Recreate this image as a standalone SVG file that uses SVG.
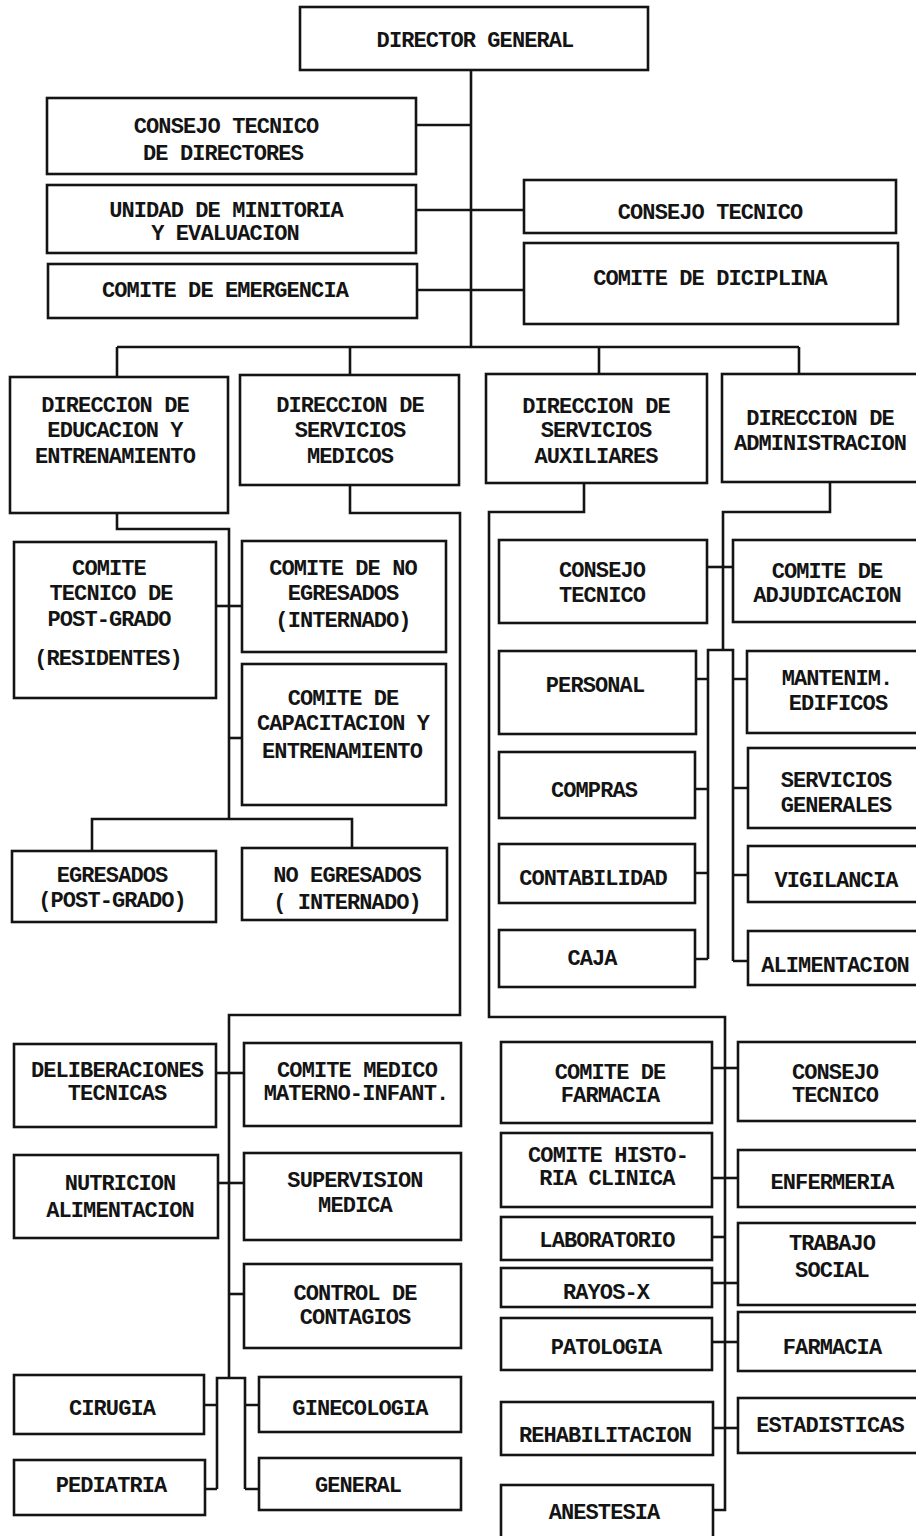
<svg xmlns="http://www.w3.org/2000/svg" width="916" height="1536" viewBox="0 0 916 1536">
  <style>
    .box { fill: #ffffff; stroke: #141414; stroke-width: 2.6; }
    .wire { fill: none; stroke: #141414; stroke-width: 2.6; stroke-linejoin: miter; }
    .t { font-family: "Liberation Mono", "DejaVu Sans Mono", monospace; font-weight: bold; font-size: 22px; letter-spacing: -0.9px; fill: #141414; text-anchor: middle; }
  </style>
  <rect width="916" height="1536" fill="#ffffff"/>

  <!-- connectors -->
  <g id="connectors" class="wire">
    <!-- director trunk and staff units -->
    <path d="M471 70 V347"/>
    <path d="M416 125 H471"/>
    <path d="M416 210 H524"/>
    <path d="M417 290 H524"/>
    <!-- bus to the four directorates -->
    <path d="M117 347 H799"/>
    <path d="M117 347 V377 M350 347 V375 M599 347 V374 M799 347 V374"/>
    <!-- education -->
    <path d="M117 513 V529 H229 V819"/>
    <path d="M216 606 H242"/>
    <path d="M229 738 H242"/>
    <path d="M92 851 V819 H352 V848"/>
    <!-- medical services -->
    <path d="M350 485 V513 H460 V1015 H229 V1378"/>
    <path d="M216 1073 H244"/>
    <path d="M218 1183 H244"/>
    <path d="M229 1294 H244"/>
    <path d="M217 1489 V1378 H245 V1489"/>
    <path d="M204 1405 H217 M205 1489 H217 M245 1405 H259 M245 1489 H259"/>
    <!-- auxiliary services -->
    <path d="M584 483 V512 H489 V1017 H725 V1510 H713"/>
    <path d="M712 1068 H738"/>
    <path d="M712 1178 H738"/>
    <path d="M712 1237 H725"/>
    <path d="M712 1283 H738"/>
    <path d="M712 1342 H738"/>
    <path d="M713 1428 H738"/>
    <!-- administration -->
    <path d="M830 482 V512 H723 V650"/>
    <path d="M707 567 H733"/>
    <path d="M708 959 V650 H733 V961"/>
    <path d="M696 679 H708 M733 679 H747"/>
    <path d="M695 789 H708 M733 788 H748"/>
    <path d="M695 873 H708 M733 875 H748"/>
    <path d="M695 959 H708 M733 961 H748"/>
  </g>

  <!-- top level -->
  <g id="director-general"><rect class="box" x="300" y="7" width="348" height="63"/><text class="t" x="475" y="47">DIRECTOR GENERAL</text></g>
  <g id="consejo-tecnico-directores"><rect class="box" x="47" y="98" width="369" height="76"/><text class="t" x="226" y="133">CONSEJO TECNICO</text><text class="t" x="223" y="160">DE DIRECTORES</text></g>
  <g id="unidad-minitoria"><rect class="box" x="47" y="185" width="369" height="68"/><text class="t" x="226" y="217">UNIDAD DE MINITORIA</text><text class="t" x="225" y="240">Y EVALUACION</text></g>
  <g id="comite-emergencia"><rect class="box" x="48" y="264" width="369" height="54"/><text class="t" x="225" y="297">COMITE DE EMERGENCIA</text></g>
  <g id="consejo-tecnico"><rect class="box" x="524" y="180" width="372" height="53"/><text class="t" x="710" y="219">CONSEJO TECNICO</text></g>
  <g id="comite-diciplina"><rect class="box" x="524" y="243" width="374" height="81"/><text class="t" x="710" y="285">COMITE DE DICIPLINA</text></g>

  <!-- directorates -->
  <g id="dir-educacion"><rect class="box" x="10" y="377" width="218" height="136"/><text class="t" x="115" y="412">DIRECCION DE</text><text class="t" x="115" y="437">EDUCACION Y</text><text class="t" x="115" y="463">ENTRENAMIENTO</text></g>
  <g id="dir-medicos"><rect class="box" x="240" y="375" width="219" height="110"/><text class="t" x="350" y="412">DIRECCION DE</text><text class="t" x="350" y="437">SERVICIOS</text><text class="t" x="350" y="463">MEDICOS</text></g>
  <g id="dir-auxiliares"><rect class="box" x="486" y="374" width="221" height="109"/><text class="t" x="596" y="413">DIRECCION DE</text><text class="t" x="596" y="437">SERVICIOS</text><text class="t" x="596" y="463">AUXILIARES</text></g>
  <g id="dir-administracion"><rect class="box" x="722" y="374" width="210" height="108"/><text class="t" x="820" y="425">DIRECCION DE</text><text class="t" x="820" y="450">ADMINISTRACION</text></g>

  <!-- education branch -->
  <g id="comite-post-grado"><rect class="box" x="14" y="542" width="202" height="156"/><text class="t" x="109" y="575">COMITE</text><text class="t" x="111" y="600">TECNICO DE</text><text class="t" x="109" y="626">POST-GRADO</text><text class="t" x="108" y="665">(RESIDENTES)</text></g>
  <g id="comite-no-egresados"><rect class="box" x="242" y="541" width="204" height="111"/><text class="t" x="343" y="575">COMITE DE NO</text><text class="t" x="343" y="600">EGRESADOS</text><text class="t" x="343" y="627">(INTERNADO)</text></g>
  <g id="comite-capacitacion"><rect class="box" x="242" y="664" width="204" height="141"/><text class="t" x="343" y="705">COMITE DE</text><text class="t" x="343" y="730">CAPACITACION Y</text><text class="t" x="342" y="758">ENTRENAMIENTO</text></g>
  <g id="egresados"><rect class="box" x="12" y="851" width="204" height="71"/><text class="t" x="112" y="882">EGRESADOS</text><text class="t" x="112" y="907">(POST-GRADO)</text></g>
  <g id="no-egresados"><rect class="box" x="242" y="848" width="205" height="72"/><text class="t" x="347" y="882">NO EGRESADOS</text><text class="t" x="347" y="909">( INTERNADO)</text></g>

  <!-- administration / auxiliary upper branch -->
  <g id="consejo-tecnico-aux"><rect class="box" x="499" y="540" width="208" height="83"/><text class="t" x="602" y="577">CONSEJO</text><text class="t" x="602" y="602">TECNICO</text></g>
  <g id="comite-adjudicacion"><rect class="box" x="733" y="540" width="200" height="82"/><text class="t" x="827" y="578">COMITE DE</text><text class="t" x="827" y="602">ADJUDICACION</text></g>
  <g id="personal"><rect class="box" x="499" y="651" width="197" height="83"/><text class="t" x="595" y="692">PERSONAL</text></g>
  <g id="mantenim-edificos"><rect class="box" x="747" y="651" width="186" height="82"/><text class="t" x="837" y="685">MANTENIM.</text><text class="t" x="838" y="710">EDIFICOS</text></g>
  <g id="compras"><rect class="box" x="499" y="752" width="196" height="66"/><text class="t" x="594" y="797">COMPRAS</text></g>
  <g id="servicios-generales"><rect class="box" x="748" y="748" width="185" height="80"/><text class="t" x="836" y="787">SERVICIOS</text><text class="t" x="836" y="812">GENERALES</text></g>
  <g id="contabilidad"><rect class="box" x="499" y="844" width="196" height="59"/><text class="t" x="593" y="885">CONTABILIDAD</text></g>
  <g id="vigilancia"><rect class="box" x="748" y="846" width="185" height="56"/><text class="t" x="836" y="887">VIGILANCIA</text></g>
  <g id="caja"><rect class="box" x="499" y="930" width="196" height="57"/><text class="t" x="592" y="965">CAJA</text></g>
  <g id="alimentacion"><rect class="box" x="748" y="931" width="185" height="54"/><text class="t" x="835" y="972">ALIMENTACION</text></g>

  <!-- medical services branch -->
  <g id="deliberaciones"><rect class="box" x="14" y="1044" width="202" height="83"/><text class="t" x="117" y="1077">DELIBERACIONES</text><text class="t" x="117" y="1100">TECNICAS</text></g>
  <g id="comite-materno-infantil"><rect class="box" x="244" y="1043" width="217" height="83"/><text class="t" x="357" y="1077">COMITE MEDICO</text><text class="t" x="356" y="1100">MATERNO-INFANT.</text></g>
  <g id="nutricion"><rect class="box" x="14" y="1155" width="204" height="83"/><text class="t" x="120" y="1190">NUTRICION</text><text class="t" x="120" y="1217">ALIMENTACION</text></g>
  <g id="supervision-medica"><rect class="box" x="244" y="1153" width="217" height="87"/><text class="t" x="355" y="1187">SUPERVISION</text><text class="t" x="355" y="1212">MEDICA</text></g>
  <g id="control-contagios"><rect class="box" x="244" y="1264" width="217" height="84"/><text class="t" x="355" y="1300">CONTROL DE</text><text class="t" x="355" y="1324">CONTAGIOS</text></g>
  <g id="cirugia"><rect class="box" x="14" y="1375" width="190" height="59"/><text class="t" x="112" y="1415">CIRUGIA</text></g>
  <g id="pediatria"><rect class="box" x="14" y="1460" width="191" height="55"/><text class="t" x="111" y="1492">PEDIATRIA</text></g>
  <g id="ginecologia"><rect class="box" x="259" y="1377" width="202" height="55"/><text class="t" x="360" y="1415">GINECOLOGIA</text></g>
  <g id="general"><rect class="box" x="259" y="1458" width="202" height="52"/><text class="t" x="358" y="1492">GENERAL</text></g>

  <!-- auxiliary services lower branch -->
  <g id="comite-farmacia"><rect class="box" x="501" y="1042" width="211" height="81"/><text class="t" x="610" y="1079">COMITE DE</text><text class="t" x="610" y="1102">FARMACIA</text></g>
  <g id="consejo-tecnico-low"><rect class="box" x="738" y="1042" width="195" height="79"/><text class="t" x="835" y="1079">CONSEJO</text><text class="t" x="835" y="1102">TECNICO</text></g>
  <g id="comite-historia"><rect class="box" x="501" y="1133" width="211" height="74"/><text class="t" x="608" y="1162">COMITE HISTO-</text><text class="t" x="607" y="1185">RIA CLINICA</text></g>
  <g id="enfermeria"><rect class="box" x="738" y="1150" width="195" height="57"/><text class="t" x="832" y="1189">ENFERMERIA</text></g>
  <g id="laboratorio"><rect class="box" x="501" y="1217" width="211" height="43"/><text class="t" x="607" y="1247">LABORATORIO</text></g>
  <g id="rayos-x"><rect class="box" x="501" y="1268" width="211" height="39"/><text class="t" x="606" y="1299">RAYOS-X</text></g>
  <g id="trabajo-social"><rect class="box" x="738" y="1223" width="195" height="82"/><text class="t" x="832" y="1250">TRABAJO</text><text class="t" x="832" y="1277">SOCIAL</text></g>
  <g id="patologia"><rect class="box" x="501" y="1318" width="211" height="52"/><text class="t" x="606" y="1354">PATOLOGIA</text></g>
  <g id="farmacia"><rect class="box" x="738" y="1312" width="195" height="59"/><text class="t" x="832" y="1354">FARMACIA</text></g>
  <g id="rehabilitacion"><rect class="box" x="501" y="1402" width="212" height="53"/><text class="t" x="605" y="1442">REHABILITACION</text></g>
  <g id="estadisticas"><rect class="box" x="738" y="1398" width="195" height="55"/><text class="t" x="830" y="1432">ESTADISTICAS</text></g>
  <g id="anestesia"><rect class="box" x="501" y="1485" width="212" height="70"/><text class="t" x="604" y="1519">ANESTESIA</text></g>
</svg>
